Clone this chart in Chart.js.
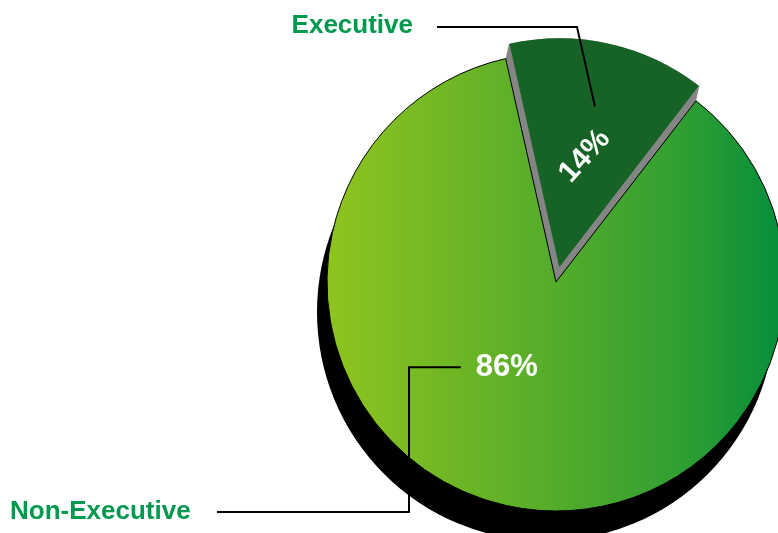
<!DOCTYPE html>
<html>
<head>
<meta charset="utf-8">
<title>Executive vs Non-Executive</title>
<script src="https://cdn.jsdelivr.net/npm/chart.js@4/dist/chart.umd.min.js"></script>
<style>
  html, body { margin: 0; padding: 0; background: #ffffff; }
  #wrap { position: relative; width: 778px; height: 533px; overflow: hidden; }
  canvas { display: block; }
</style>
</head>
<body>
<div id="wrap"><canvas id="pie" width="778" height="533"></canvas></div>
<script>
// Board composition
const categories = ['Executive', 'Non-Executive'];
const shares = [14, 86];
const shareLabels = ['14%', '86%'];

const FONT = '"Liberation Sans", Arial, Helvetica, sans-serif';
const EXEC_GREEN = '#176326';
const LABEL_GREEN = '#00994d';
const PIE_RADIUS = 229;

// Horizontal light-to-dark green fill for the large slice
function sliceFill(c) {
  if (c.dataIndex === 0) return EXEC_GREEN;
  const area = c.chart.chartArea;
  if (!area) return '#5aad2b';
  const cx = (area.left + area.right) / 2;
  const g = c.chart.ctx.createLinearGradient(cx - PIE_RADIUS, 0, cx + PIE_RADIUS, 0);
  g.addColorStop(0, '#8fc41f');
  g.addColorStop(0.45, '#5aae2a');
  g.addColorStop(0.75, '#34a031');
  g.addColorStop(1, '#058e3b');
  return g;
}

// Geometry of the pulled-out slice, taken from the arc elements
function explodedGeometry(meta) {
  const el = meta.data[0];
  const base = meta.data[1].getProps(['outerRadius'], true).outerRadius;
  const p = el.getProps(['x', 'y', 'startAngle', 'endAngle', 'circumference'], true);
  const shift = (el.options.offset || 0) / 4;
  const mid = (p.startAngle + p.endAngle) / 2;
  const fix = 1 - Math.sin(Math.min(Math.PI, p.circumference || 0));
  return {
    el, x: p.x, y: p.y, s: p.startAngle, e: p.endAngle, mid,
    r: base,
    grow: shift * fix,
    dx: Math.cos(mid) * shift,
    dy: Math.sin(mid) * shift
  };
}

// Drop shadow under the pie and grey side face of the pulled-out slice
const depthPlugin = {
  id: 'depth',
  beforeDatasetsDraw(chart) {
    const meta = chart.getDatasetMeta(0);
    const ctx = chart.ctx;
    const bp = meta.data[1].getProps(['x', 'y', 'outerRadius'], true);
    const g = explodedGeometry(meta);

    // keep the pulled-out slice at the same radius as the rest of the pie
    g.el.outerRadius = g.r - g.grow;

    ctx.save();
    ctx.fillStyle = '#000000';
    ctx.beginPath();
    ctx.arc(bp.x - 10, bp.y + 30, bp.outerRadius, 0, Math.PI * 2);
    ctx.fill();

    ctx.fillStyle = '#858585';
    ctx.beginPath();
    ctx.moveTo(g.x, g.y);
    ctx.lineTo(g.x + g.r * Math.cos(g.s), g.y + g.r * Math.sin(g.s));
    ctx.lineTo(g.x + g.dx + g.r * Math.cos(g.s), g.y + g.dy + g.r * Math.sin(g.s));
    ctx.arc(g.x + g.dx, g.y + g.dy, g.r, g.s, g.e);
    ctx.lineTo(g.x + g.r * Math.cos(g.e), g.y + g.r * Math.sin(g.e));
    ctx.closePath();
    ctx.fill();
    ctx.restore();
  }
};

// Percentages, category names and their leader lines
const calloutPlugin = {
  id: 'callouts',
  afterDatasetsDraw(chart) {
    const meta = chart.getDatasetMeta(0);
    const ctx = chart.ctx;
    const ex = explodedGeometry(meta);
    const big = meta.data[1].getProps(['x', 'y', 'outerRadius'], true);

    ctx.save();
    ctx.fillStyle = '#ffffff';
    ctx.textAlign = 'center';
    ctx.textBaseline = 'middle';

    // 14% inside the pulled-out slice, along its bisector
    const lx = ex.x + ex.dx + Math.cos(ex.mid) * ex.r * 0.5;
    const ly = ex.y + ex.dy + Math.sin(ex.mid) * ex.r * 0.5;
    ctx.save();
    ctx.translate(lx, ly);
    ctx.rotate(-48 * Math.PI / 180);
    ctx.font = 'bold 30px ' + FONT;
    ctx.fillText(shareLabels[0], 0, 1);
    ctx.restore();

    // 86% in the large slice
    const a86 = (210 - 90) * Math.PI / 180;
    const px = big.x + Math.cos(a86) * big.outerRadius * 0.43;
    const py = big.y + Math.sin(a86) * big.outerRadius * 0.43;
    ctx.font = 'bold 31px ' + FONT;
    ctx.fillText(shareLabels[1], px, py);

    // Leader lines
    const tip = {
      x: ex.x + ex.dx + Math.cos(ex.mid) * ex.r * 0.72,
      y: ex.y + ex.dy + Math.sin(ex.mid) * ex.r * 0.72
    };
    ctx.strokeStyle = '#000000';
    ctx.lineWidth = 2;
    ctx.lineJoin = 'miter';
    ctx.beginPath();
    ctx.moveTo(437, 27);
    ctx.lineTo(577, 27);
    ctx.lineTo(tip.x, tip.y);
    ctx.stroke();

    ctx.beginPath();
    ctx.moveTo(px - 46, py);
    ctx.lineTo(409, py);
    ctx.lineTo(409, 512);
    ctx.lineTo(217, 512);
    ctx.stroke();

    // Category names
    ctx.fillStyle = LABEL_GREEN;
    ctx.font = 'bold 26px ' + FONT;
    ctx.textAlign = 'right';
    ctx.textBaseline = 'alphabetic';
    ctx.fillText(categories[0], 413, 33);
    ctx.textAlign = 'left';
    ctx.fillText(categories[1], 10, 519);
    ctx.restore();
  }
};

new Chart(document.getElementById('pie'), {
  type: 'pie',
  data: {
    labels: categories,
    datasets: [{
      data: shares,
      backgroundColor: sliceFill,
      borderColor: [EXEC_GREEN, '#000000'],
      borderWidth: [0, 1],
      offset: [60, 0],
      clip: false
    }]
  },
  options: {
    responsive: false,
    animation: false,
    devicePixelRatio: 1,
    rotation: -12.7,
    radius: PIE_RADIUS,
    layout: { padding: { left: 334, right: 0, top: 31, bottom: 0 } },
    plugins: {
      legend: { display: false },
      tooltip: { enabled: false }
    }
  },
  plugins: [depthPlugin, calloutPlugin]
});
</script>
</body>
</html>
